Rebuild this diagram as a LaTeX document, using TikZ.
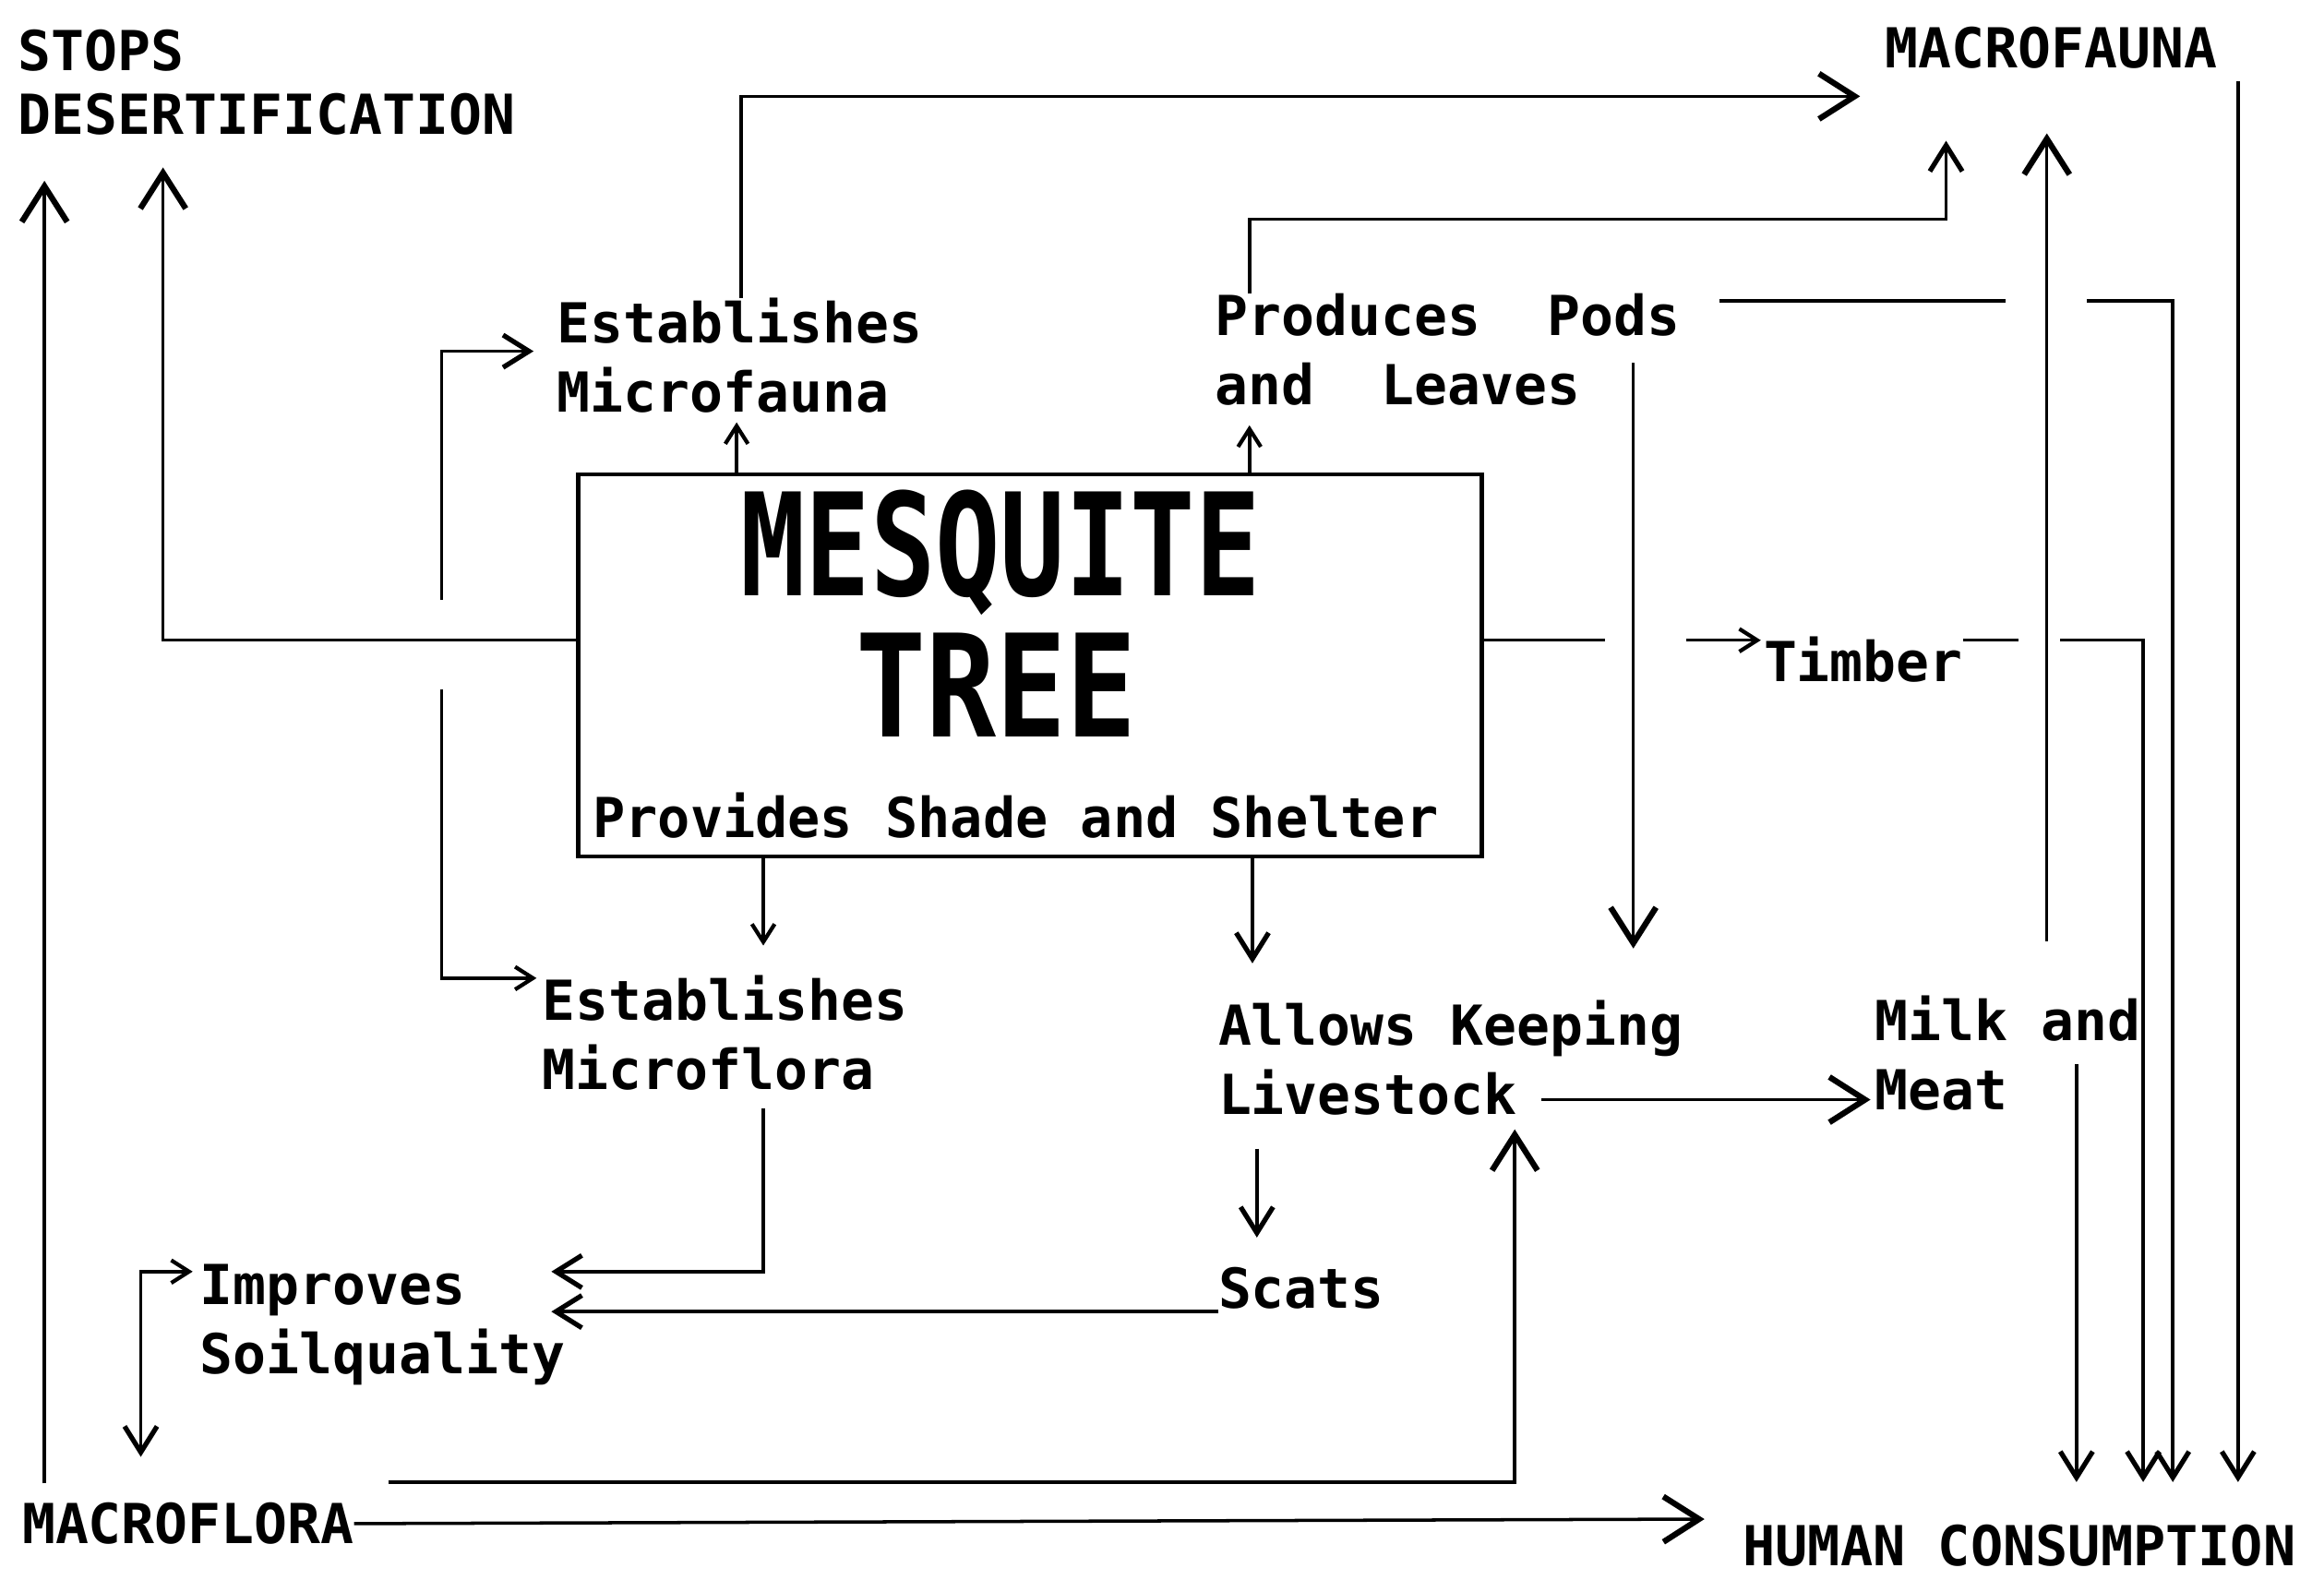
\documentclass[tikz,border=0pt]{standalone}
\usepackage{fontspec}
\usepackage{graphicx}
\setmonofont{DejaVu Sans Mono}
\usetikzlibrary{arrows.meta,calc}
\begin{document}
\begin{tikzpicture}[x=0.01606cm,y=-0.01606cm,
  txt/.style={font=\ttfamily\bfseries\fontsize{17}{21.4}\selectfont, inner sep=0pt, outer sep=0pt, align=left},
  capl/.style={font=\ttfamily\bfseries\fontsize{17}{19.6}\selectfont, inner sep=0pt, outer sep=0pt, align=left},
  ttl/.style={font=\ttfamily\bfseries\fontsize{33.3}{40}\selectfont, inner sep=0pt, outer sep=0pt},
  ln/.style={line width=1pt, line join=miter},
  big/.style={-{Straight Barb[length=11pt,width=14pt,line width=1.8pt]}},
  med/.style={-{Straight Barb[length=8pt,width=10pt,line width=1.5pt]}},
  sm/.style={-{Straight Barb[length=5.5pt,width=7pt,line width=1.2pt]}},
  boxst/.style={draw, line width=1.3pt, inner sep=0pt, outer sep=0pt, minimum width=9.797cm, minimum height=4.143cm}
]
\useasboundingbox (0,0) rectangle (1568,1066);

% nodes
\node[capl, anchor=north west] (stops) at (12,20) {STOPS\\DESERTIFICATION};
\node[capl, anchor=north west] (macrofauna) at (1272,18) {MACROFAUNA};
\node[txt, anchor=north west] (mfauna) at (376,201) {Establishes\\Microfauna};
\node[txt, anchor=north west] (pods) at (820,198) {Produces~~Pods\\and~~Leaves};
\node[boxst] (tree) at (695,449) {};
\node[ttl] (t1) at (675,373) {\scalebox{1}[1.32]{MESQUITE}};
\node[ttl] (t2) at (672,462) {\scalebox{1.08}[1.32]{TREE}};
\node[txt, anchor=base west] (t3) at (400,565) {\scalebox{0.98}[1]{Provides Shade and Shelter}};
\node[txt, anchor=west] (timber) at (1190,445) {Timber};
\node[txt, anchor=north west] (mflora) at (366,658) {Establishes\\Microflora};
\node[txt, anchor=north west] (livestock) at (822,675) {Allows Keeping\\Livestock};
\node[txt, anchor=north west] (milk) at (1265,672) {Milk and\\Meat};
\node[txt, anchor=north west] (scats) at (822,855) {Scats};
\node[txt, anchor=north west] (soil) at (135,853) {Improves\\Soilquality};
\node[capl, anchor=north west] (macroflora) at (15,1014) {MACROFLORA};
\node[capl, anchor=north west] (human) at (1176,1029) {\scalebox{0.98}[1]{HUMAN CONSUMPTION}};

% connectors
\draw[ln,big] (tree.west |- 0,432) -| (110,113);
\draw[ln,big] ([yshift=6pt]macroflora.north -| 30,0) -- (30,122);
\draw[ln,med] (298,405) |- (360,237);
\draw[ln,sm] (298,465) |- (362,660);
\draw[ln,sm] (tree.north -| 497,0) -- (497,285);
\draw[ln,sm] (tree.north -| 843,0) -- (843,287);
\draw[ln,big] (mfauna.north -| 500,0) |- (1255,65);
\draw[ln,med] (pods.north -| 843,0) |- (1313,148) -- (1313,95);
\draw[ln,big] (1381,635) -- (1381,90);
\draw[ln,med] (1510,55) -- (1510,1000);
\draw[ln] (1160,203) -- (1353,203);
\draw[ln,med] (1408,203) -| (1466,1000);
\draw[ln] (timber.east |- 0,432) -- (1362,432);
\draw[ln,med] (1390,432) -| (1446,1000);
\draw[ln,med] (1401,718) -- (1401,1000);
\draw[ln] (tree.east |- 0,432) -- (1083,432);
\draw[ln,sm] (1138,432) -- (1188,432);
\draw[ln,big] (1102,245) -- (1102,640);
\draw[ln,sm] (tree.south -| 515,0) -- (515,638);
\draw[ln,med] (tree.south -| 845,0) -- (845,650);
\draw[ln,big] (1040,742) -- (1262,742);
\draw[ln,med] (848,775) -- (848,835);
\draw[ln,med] (515,748) |- (372,858);
\draw[ln,med] (scats.west |- 0,885) -- (372,885);
\draw[ln,{Straight Barb[length=5.5pt,width=7pt,line width=1.2pt]}-{Straight Barb[length=8pt,width=10pt,line width=1.5pt]}] (130,858) -- (95,858) -- (95,983);
\draw[ln,big] (262,1000) -| (1022,762);
\draw[ln,big] (macroflora.east) -- (1150,1025);
\end{tikzpicture}
\end{document}
